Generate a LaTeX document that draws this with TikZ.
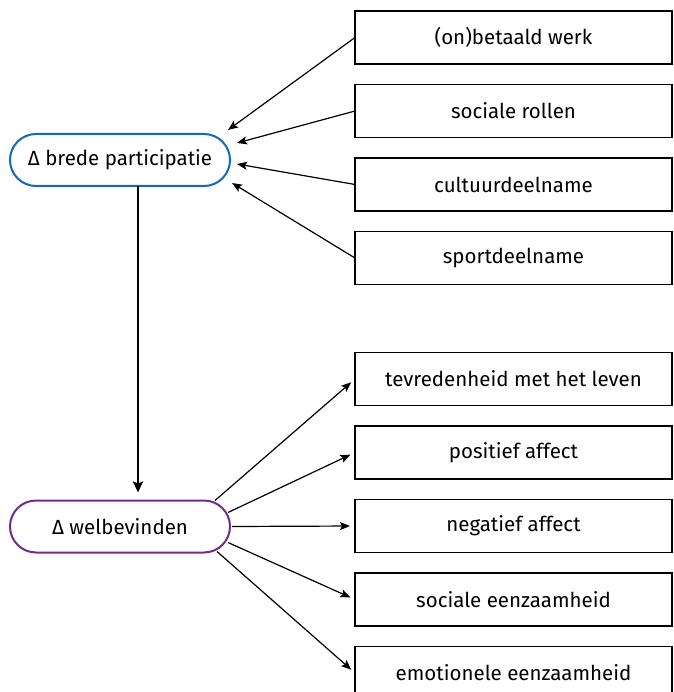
\documentclass[tikz,border=0pt]{standalone}
\usepackage{fontspec}
\setmainfont{Fira Sans}
\usepackage{xcolor}
\usepackage{tikz}
\usetikzlibrary{arrows.meta,positioning,calc}

\definecolor{rijksblauw}{HTML}{1468B8}
\definecolor{rijkspaars}{HTML}{6E2C8C}

\begin{document}
\begin{tikzpicture}[
    x=1pt, y=1pt,
    item/.style={
        draw,
        line width=1.2pt,
        minimum width=317pt,
        minimum height=53pt,
        inner sep=0pt,
        outer sep=0pt,
        font=\fontsize{20.5}{24}\selectfont
    },
    blok/.style={
        draw,
        line width=2pt,
        rounded corners=26pt,
        minimum width=220pt,
        minimum height=52pt,
        outer sep=0pt,
        font=\fontsize{20.5}{24}\selectfont
    },
    arrow/.style={-{Stealth[length=10pt,width=8pt,inset=2pt]}, line width=1.2pt}
]
\useasboundingbox (0,0) rectangle (673,-692);

\node[blok, draw=rijksblauw] (participatie) at (120,-160) {Δ brede participatie};
\node[blok, draw=rijkspaars] (welbevinden) at (120,-526.5) {Δ welbevinden};

% participatie
\node[item] (werk) at (513.5,-37.5) {(on)betaald werk};
\node[item, below=20.5pt of werk] (rollen) {sociale rollen};
\node[item, below=20.5pt of rollen] (cultuur) {cultuurdeelname};
\node[item, below=20.5pt of cultuur] (sport) {sportdeelname};

% welbevinden
\node[item, below=68pt of sport] (tevreden) {tevredenheid met het leven};
\node[item, below=20.5pt of tevreden] (positief) {positief affect};
\node[item, below=20.5pt of positief] (negatief) {negatief affect};
\node[item, below=20.5pt of negatief] (sociaal) {sociale eenzaamheid};
\node[item, below=20.5pt of sociaal] (emotioneel) {emotionele eenzaamheid};

\draw[arrow] (werk.west) -- ([shift={(-2,30)}]participatie.east);
\draw[arrow] (rollen.west) -- ([shift={(7,17)}]participatie.east);
\draw[arrow] (cultuur.west) -- ([shift={(7,-4)}]participatie.east);
\draw[arrow] (sport.west) -- ([shift={(2,-23)}]participatie.east);

\draw[arrow, line width=2.4pt, -{Stealth[length=11pt,width=10pt,inset=2pt]}]
    ([xshift=18pt]participatie.south) -- ([xshift=18pt,yshift=8pt]welbevinden.north);

\draw[arrow, shorten >=5pt] ([shift={(-15,26)}]welbevinden.east) -- (tevreden.west);
\draw[arrow, shorten >=5pt] ([shift={(-2,14)}]welbevinden.east) -- (positief.west);
\draw[arrow, shorten >=5pt] ([shift={(2,0)}]welbevinden.east) -- (negatief.west);
\draw[arrow, shorten >=5pt] ([shift={(-2,-16)}]welbevinden.east) -- (sociaal.west);
\draw[arrow, shorten >=5pt] ([shift={(-13,-25)}]welbevinden.east) -- (emotioneel.west);
\end{tikzpicture}
\end{document}
